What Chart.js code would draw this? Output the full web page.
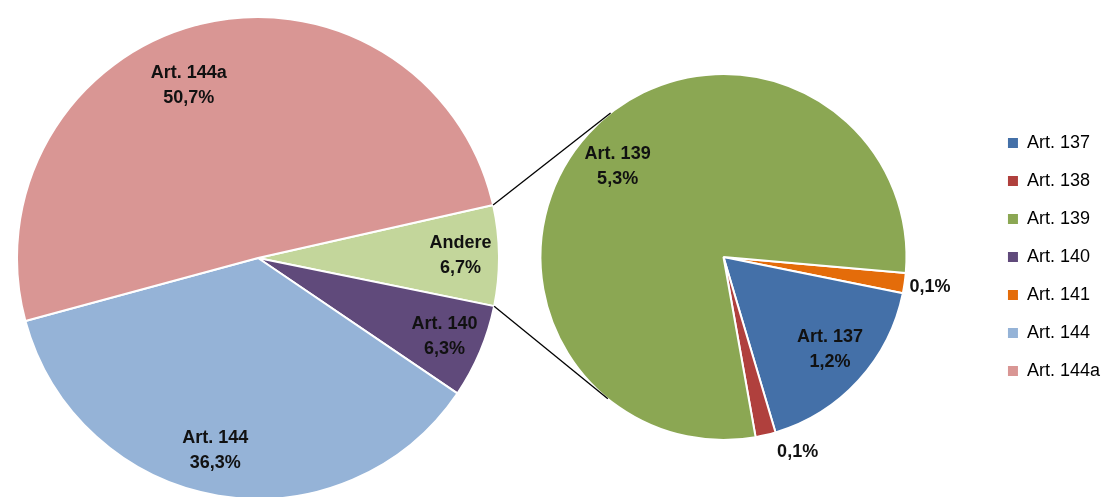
<!DOCTYPE html>
<html>
<head>
<meta charset="utf-8">
<script src="https://cdn.jsdelivr.net/npm/chart.js@4.4.1/dist/chart.umd.min.js"></script>
<style>
  body { margin: 0; background: #fff; width: 1105px; height: 497px; overflow: hidden; position: relative; }
  canvas { position: absolute; }
  #hauptTorte { left: 16px; top: 16px; }
  #detailTorte { left: 459px; top: 0px; }
</style>
</head>
<body>
<canvas id="hauptTorte" width="484" height="484"></canvas>
<canvas id="detailTorte" width="651" height="497"></canvas>
<script>
// Detailkreis (zusammen ergibt er "Andere")
const detailLabels = ['Art. 141', 'Art. 137', 'Art. 138', 'Art. 139'];
const detailWerte = [0.12, 1.16, 0.12, 5.33];
const detailFarben = ['#E46C0A', '#4470A8', '#B0403D', '#8BA753'];

// Hauptkreis
const hauptLabels = ['Andere', 'Art. 140', 'Art. 144', 'Art. 144a'];
const hauptWerte = [detailWerte.reduce((s, v) => s + v, 0), 6.3, 36.3, 50.7];
const hauptFarben = ['#C3D69B', '#604A7B', '#95B3D7', '#D99694'];

// Legende
const legendeLabels = ['Art. 137', 'Art. 138', 'Art. 139', 'Art. 140', 'Art. 141', 'Art. 144', 'Art. 144a'];

const farbeVon = {};
detailLabels.forEach((l, i) => farbeVon[l] = detailFarben[i]);
hauptLabels.forEach((l, i) => farbeVon[l] = hauptFarben[i]);

const schrift = '"Liberation Sans", Arial, sans-serif';

function prozent(v) {
    return v.toFixed(1).replace('.', ',') + '%';
}

// Beschriftung der Segmente
const beschriftung = {
    id: 'beschriftung',
    afterDatasetsDraw(chart, args, opts) {
        const ctx = chart.ctx;
        const meta = chart.getDatasetMeta(0);
        const werte = chart.data.datasets[0].data;
        ctx.save();
        ctx.font = 'bold 18px ' + schrift;
        ctx.fillStyle = '#111';
        ctx.textAlign = 'center';
        ctx.textBaseline = 'middle';
        meta.data.forEach((arc, i) => {
            const p = opts.pos[i];
            const winkel = (arc.startAngle + arc.endAngle) / 2 + p.dw * Math.PI / 180;
            const r = arc.outerRadius * p.r;
            const x = arc.x + Math.cos(winkel) * r;
            const y = arc.y + Math.sin(winkel) * r;
            if (p.name) {
                ctx.fillText(chart.data.labels[i], x, y - 12.5);
                ctx.fillText(prozent(werte[i]), x, y + 12.5);
            } else {
                ctx.fillText(prozent(werte[i]), x, y);
            }
        });
        ctx.restore();
    }
};

// Verbindungslinien von "Andere" zum Detailkreis
const verbinder = {
    id: 'verbinder',
    afterDraw(chart) {
        const a = hauptChart.getDatasetMeta(0).data[0];
        const b = chart.getDatasetMeta(0).data[0];
        const dx = hauptChart.canvas.offsetLeft - chart.canvas.offsetLeft;
        const dy = hauptChart.canvas.offsetTop - chart.canvas.offsetTop;
        const R = b.outerRadius;
        const ctx = chart.ctx;
        ctx.save();
        ctx.strokeStyle = '#000';
        ctx.lineWidth = 1.3;
        [[a.startAngle, 1], [a.endAngle, -1]].forEach(([w, s]) => {
            const px = a.x + Math.cos(w) * a.outerRadius + dx;
            const py = a.y + Math.sin(w) * a.outerRadius + dy;
            const vx = px - b.x, vy = py - b.y;
            const d = Math.hypot(vx, vy);
            const t = Math.atan2(vy, vx) + s * Math.acos(R / d);
            ctx.beginPath();
            ctx.moveTo(px, py);
            ctx.lineTo(b.x + Math.cos(t) * R, b.y + Math.sin(t) * R);
            ctx.stroke();
        });
        ctx.restore();
    }
};

const hauptChart = new Chart(document.getElementById('hauptTorte'), {
    type: 'pie',
    data: {
        labels: hauptLabels,
        datasets: [{ data: hauptWerte, backgroundColor: hauptFarben, borderColor: '#fff', borderWidth: 2 }]
    },
    options: {
        responsive: false,
        animation: false,
        events: [],
        rotation: 77.3,
        layout: { padding: 0 },
        plugins: {
            legend: { display: false },
            tooltip: { enabled: false },
            beschriftung: {
                pos: [
                    { r: 0.84, dw: 0, name: true },
                    { r: 0.84, dw: 0, name: true },
                    { r: 0.82, dw: 3, name: true },
                    { r: 0.77, dw: -8, name: true }
                ]
            }
        }
    },
    plugins: [beschriftung]
});

const detailChart = new Chart(document.getElementById('detailTorte'), {
    type: 'pie',
    data: {
        labels: detailLabels,
        datasets: [{ data: detailWerte, backgroundColor: detailFarben, borderColor: '#fff', borderWidth: 2 }]
    },
    options: {
        responsive: false,
        animation: false,
        events: [],
        rotation: 95,
        layout: { padding: { top: 73, bottom: 56, left: 0, right: 0 } },
        plugins: {
            legend: {
                position: 'right',
                align: 'center',
                labels: {
                    boxWidth: 10,
                    boxHeight: 10,
                    padding: 20,
                    color: '#222',
                    font: { size: 18, family: schrift },
                    generateLabels: () => legendeLabels.map((t, i) => ({
                        text: t,
                        fillStyle: farbeVon[t],
                        strokeStyle: farbeVon[t],
                        lineWidth: 0,
                        hidden: false,
                        index: i
                    }))
                }
            },
            tooltip: { enabled: false },
            beschriftung: {
                pos: [
                    { r: 1.14, dw: 0, name: false },
                    { r: 0.77, dw: -1.5, name: true },
                    { r: 1.14, dw: -7.5, name: false },
                    { r: 0.76, dw: -2, name: true }
                ]
            }
        }
    },
    plugins: [beschriftung, verbinder]
});
</script>
</body>
</html>
